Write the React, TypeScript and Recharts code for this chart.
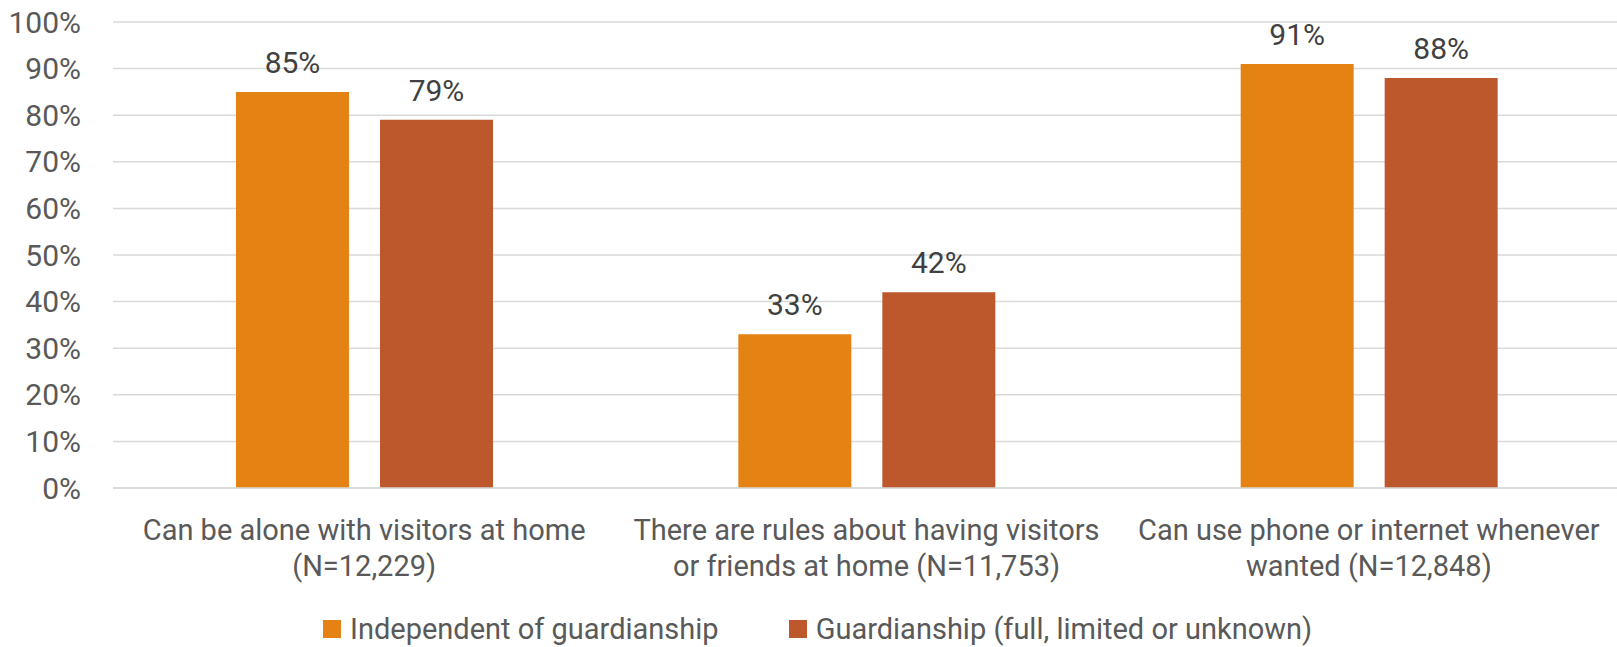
import { Bar, BarChart, CartesianGrid, LabelList, Legend, XAxis, YAxis } from 'recharts';

const categories = [
  'Can be alone with visitors at home\n(N=12,229)',
  'There are rules about having visitors\nor friends at home (N=11,753)',
  'Can use phone or internet whenever\nwanted (N=12,848)',
];
const independent = [85, 33, 91];
const guardianship = [79, 42, 88];
const seriesNames = ['Independent of guardianship', 'Guardianship (full, limited or unknown)'];
const yTicks = [0, 10, 20, 30, 40, 50, 60, 70, 80, 90, 100];

const data = categories.map((name, i) => ({
  name,
  independent: independent[i],
  guardianship: guardianship[i],
}));

const FONT = 'Roboto, "Liberation Sans", sans-serif';
const ORANGE = '#E48213';
const BROWN = '#BD582D';

const CategoryTick = ({ x, y, payload }: any) => {
  const lines = String(payload.value).split('\n');
  return (
    <text x={x} y={y} textAnchor="middle" fill="#595959" fontSize={29} fontFamily={FONT}>
      {lines.map((line, i) => (
        <tspan key={i} x={x} dy={i === 0 ? 52 : 36}>
          {line}
        </tspan>
      ))}
    </text>
  );
};

// keep legend in series order instead of alphabetical
const LegendContent = ({ payload }: any) => {
  const items = [...(payload || [])].sort(
    (a: any, b: any) => seriesNames.indexOf(a.value) - seriesNames.indexOf(b.value),
  );
  return (
    <div style={{ display: 'flex', alignItems: 'center', fontFamily: FONT, fontSize: 29, color: '#595959' }}>
      {items.map((entry: any, i: number) => (
        <div key={i} style={{ display: 'flex', alignItems: 'center', marginRight: 70 }}>
          <span style={{ width: 18, height: 18, background: entry.color, marginRight: 9, display: 'inline-block' }} />
          <span style={{ whiteSpace: 'nowrap' }}>{entry.value}</span>
        </div>
      ))}
    </div>
  );
};

export default function App() {
  return (
    <div style={{ position: 'absolute', left: 0, top: 0, background: '#fff' }}>
      <BarChart
        width={1620}
        height={647}
        data={data}
        margin={{ top: 22, right: 0, left: 0, bottom: 59 }}
        barGap={31}
      >
        <CartesianGrid stroke="#D9D9D9" strokeWidth={1.5} vertical={false} />
        <XAxis
          dataKey="name"
          height={100}
          interval={0}
          tickLine={false}
          tickSize={0}
          tickMargin={0}
          axisLine={{ stroke: '#D9D9D9', strokeWidth: 1.5 }}
          tick={<CategoryTick />}
        />
        <YAxis
          width={113}
          domain={[0, 100]}
          ticks={yTicks}
          interval={0}
          axisLine={false}
          tickLine={false}
          tickSize={0}
          tickMargin={32}
          tickFormatter={(v) => `${v}%`}
          tick={{ fill: '#595959', fontSize: 30, fontFamily: FONT }}
        />
        <Legend
          layout="horizontal"
          verticalAlign="middle"
          align="center"
          wrapperStyle={{ left: 323, top: 612, width: 'auto', height: 'auto' }}
          content={<LegendContent />}
        />
        <Bar dataKey="independent" name={seriesNames[0]} fill={ORANGE} barSize={113} isAnimationActive={false}>
          <LabelList
            dataKey="independent"
            position="top"
            offset={19}
            formatter={(v: any) => `${v}%`}
            style={{ fill: '#404040', fontSize: 30, fontFamily: FONT }}
          />
        </Bar>
        <Bar dataKey="guardianship" name={seriesNames[1]} fill={BROWN} barSize={113} isAnimationActive={false}>
          <LabelList
            dataKey="guardianship"
            position="top"
            offset={19}
            formatter={(v: any) => `${v}%`}
            style={{ fill: '#404040', fontSize: 30, fontFamily: FONT }}
          />
        </Bar>
      </BarChart>
    </div>
  );
}
